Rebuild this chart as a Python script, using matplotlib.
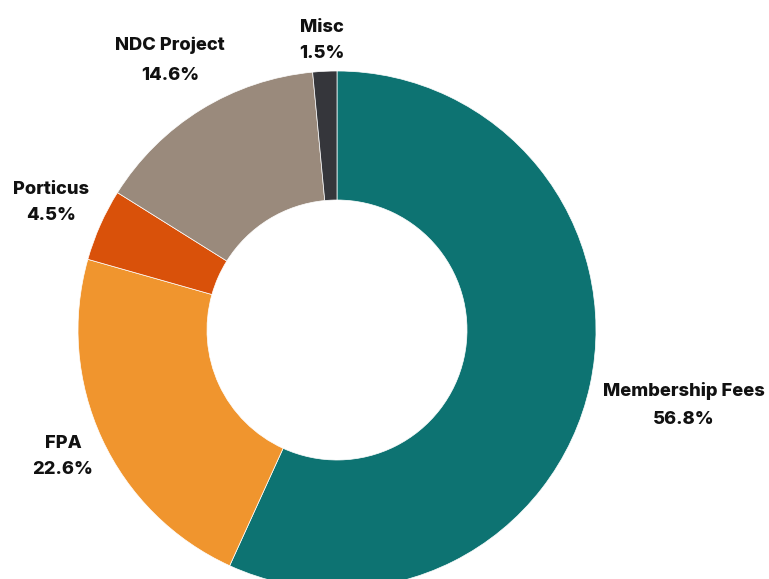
import matplotlib.pyplot as plt

labels = ["Membership Fees", "FPA", "Porticus", "NDC Project", "Misc"]
values = [56.8, 22.6, 4.5, 14.6, 1.5]
colors = ["#0d7372", "#f0952e", "#d9510a", "#9a8a7c", "#35363b"]
# (x, y of name line, y of percent line) in pixels from top
label_pos = [(684, 391, 420), (63, 444, 469), (51, 190, 215), (170, 45, 75), (322, 28, 53)]

plt.rcParams['font.family'] = ['Inter', 'DejaVu Sans']

fig = plt.figure(figsize=(7.69, 5.79), dpi=100)
ax = fig.add_axes([0, 0, 1, 1])
ax.axis('off')

H = 579
ax.pie(values, colors=colors, startangle=90, counterclock=False,
       center=(337, H - 330), radius=259,
       wedgeprops=dict(width=129, edgecolor='white', linewidth=0.5))
ax.set_aspect('equal')
ax.set_xlim(0, 769)
ax.set_ylim(0, H)

for lab, v, (x, y1, y2) in zip(labels, values, label_pos):
    kw = dict(ha='center', va='center', fontsize=13.2, fontweight=800, color='#111111')
    ax.text(x, H - y1, lab, **kw)
    ax.text(x, H - y2, f"{v:.1f}%", **kw)

fig.savefig("out.png", dpi=100)
